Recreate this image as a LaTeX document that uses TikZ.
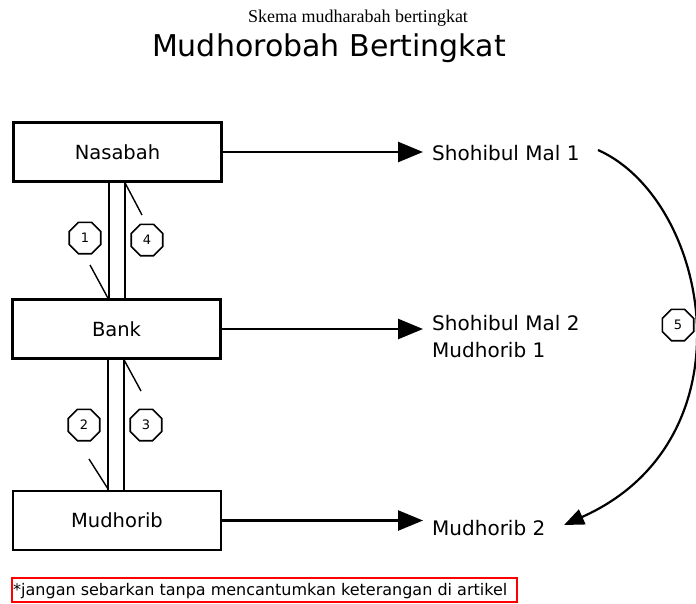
\documentclass[tikz,border=0pt]{standalone}
\usepackage{fontspec}
\setmainfont{DejaVu Sans}
\newfontfamily\serifface{Liberation Serif}
\usetikzlibrary{arrows.meta,shapes.geometric}
\tikzset{
  entity/.style={draw,line width=2.6pt,minimum width=208pt,minimum height=59pt,inner sep=0pt,font=\fontsize{19.5}{22}\selectfont},
  label/.style={anchor=west,inner sep=0pt,font=\fontsize{20}{27}\selectfont,align=left},
  octo/.style={draw,line width=1.6pt,regular polygon,regular polygon sides=8,minimum size=34pt,inner sep=0pt,fill=white,font=\fontsize{13}{15}\selectfont},
  flow/.style={line width=2.6pt,-{Triangle[length=25pt,width=20pt]},shorten >=9pt},
  rail/.style={line width=2.6pt},
  tick/.style={line width=1.4pt},
}
\begin{document}
\begin{tikzpicture}[x=1pt,y=-1pt]
\useasboundingbox (0,0) rectangle (696,603);
\node[font=\serifface\fontsize{18}{20}\selectfont,inner sep=0pt] (sub) at (358,18) {Skema mudharabah bertingkat};
\node[font=\fontsize{30}{34}\selectfont,inner sep=0pt] (title) at (329,48) {Mudhorobah Bertingkat};

\node[entity] (nas) at (117.5,152) {Nasabah};
\node[entity] (bank) at (116.5,329) {Bank};
\node[entity] (mud) at (117,520.5) {Mudhorib};

\node[label] (sm1) at (432,153) {Shohibul Mal 1};
\node[label] (sm2) at (432,337) {Shohibul Mal 2\\Mudhorib 1};
\node[label] (m2) at (432,528) {Mudhorib 2};

\draw[flow] (nas.east) -- (nas.east -| sm1.west);
\draw[flow] (bank.east) -- (bank.east -| sm2.west);
\draw[flow] (mud.east) -- (mud.east -| m2.west);

% rails
\draw[rail] ([xshift=-8.5pt]nas.south) -- ([xshift=-8.5pt]nas.south |- bank.north);
\draw[rail] ([xshift=7.5pt]nas.south) -- ([xshift=7.5pt]nas.south |- bank.north);
\draw[rail] ([xshift=-8.5pt]bank.south) -- ([xshift=-8.5pt]bank.south |- mud.north);
\draw[rail] ([xshift=7.5pt]bank.south) -- ([xshift=7.5pt]bank.south |- mud.north);

% ticks
\coordinate (t1a) at (90,265);
\coordinate (t4b) at (142,215);
\coordinate (t3b) at (141,391);
\coordinate (t2a) at (89,459);
\draw[tick] (t1a) -- ([xshift=-8.5pt]bank.north);
\draw[tick] ([xshift=7.5pt]nas.south) -- (t4b);
\draw[tick] ([xshift=7.5pt]bank.south) -- (t3b);
\draw[tick] (t2a) -- ([xshift=-8.5pt]mud.north);

% curve
\coordinate (cs) at (598,150);
\coordinate (ce) at (564,525);
\draw[line width=2.2pt,-{Triangle[length=20pt,width=16pt]}] (cs) .. controls (710,200) and (755,440) .. (ce);

\node[octo] (c1) at (85,238) {1};
\node[octo] (c4) at (147,240) {4};
\node[octo] (c2) at (84,425) {2};
\node[octo] (c3) at (146,425) {3};
\node[octo] (c5) at (678,325) {5};

\node[draw=red,line width=2pt,minimum width=505pt,minimum height=24pt,inner sep=0pt,anchor=west] (foot) at (11,590) {};
\node[anchor=west,inner sep=0pt,font=\fontsize{16}{18}\selectfont] (foottext) at (13,591) {*jangan sebarkan tanpa mencantumkan keterangan di artikel};
\end{tikzpicture}
\end{document}
